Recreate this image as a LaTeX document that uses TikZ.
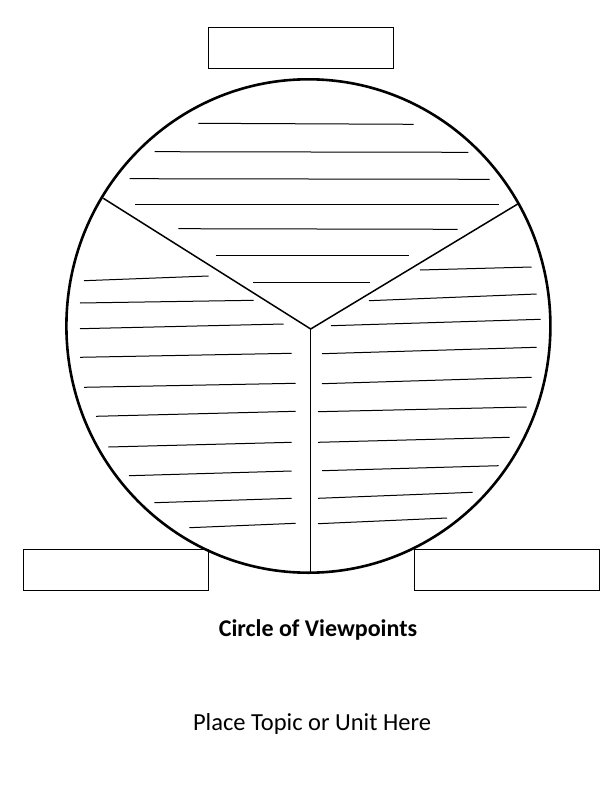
\documentclass[tikz,border=0pt]{standalone}
\usepackage{fontspec}
\setmainfont{Carlito}
\tikzset{
	rim/.style={line width=2.6pt},
	spoke/.style={line width=1.5pt},
	ruled/.style={line width=1pt},
	namebox/.style={line width=0.9pt},
	caption/.style={anchor=base, inner sep=0pt},
}
\begin{document}
\begin{tikzpicture}[x=1pt, y=-1pt]
		\useasboundingbox (0, 0) rectangle (612, 792);
		
		\draw[namebox] (208.4, 27) rectangle (393.4, 68.3);
		\draw[namebox] (23.4, 549.3) rectangle (208.3, 590.3);
		\draw[namebox] (414.5, 549.3) rectangle (599.5, 590.3);
		
		\draw[rim] (308.4, 326) ellipse [x radius=242pt, y radius=246.7pt];
		
		\coordinate (hub) at (310.7, 329);
		\coordinate (lefttip) at (103.3, 198.3);
		\coordinate (righttip) at (517.7, 204);
		\coordinate (foot) at (310.7, 572.7);
		\draw[spoke] (lefttip) -- (hub) -- (righttip);
		\draw[spoke] (hub) -- (foot);
		
		\draw[ruled] (198.3, 123.3) -- (413.7, 124.3);
		\draw[ruled] (154.6, 151.7) -- (468.4, 152.3);
		\draw[ruled] (129.6, 178.7) -- (489.5, 179.3);
		\draw[ruled] (135.0, 204.0) -- (498.8, 204.0);
		\draw[ruled] (178.4, 228.7) -- (457.5, 229.3);
		\draw[ruled] (215.5, 255.3) -- (408.7, 255.3);
		\draw[ruled] (253.3, 282.3) -- (369.6, 282.3);
		
		\draw[ruled] (84.0, 280.7) -- (208.7, 276.0);
		\draw[ruled] (80.0, 303.0) -- (253.7, 300.3);
		\draw[ruled] (80.0, 328.7) -- (283.7, 324.0);
		\draw[ruled] (80.0, 357.3) -- (291.7, 353.3);
		\draw[ruled] (84.0, 387.3) -- (295.7, 383.3);
		\draw[ruled] (96.0, 416.3) -- (295.7, 411.3);
		\draw[ruled] (108.3, 447.0) -- (291.7, 442.3);
		\draw[ruled] (129.0, 475.7) -- (291.7, 471.0);
		\draw[ruled] (154.3, 502.7) -- (291.7, 498.3);
		\draw[ruled] (189.3, 527.7) -- (295.7, 523.3);
		
		\draw[ruled] (420.0, 270.0) -- (531.7, 267.0);
		\draw[ruled] (369.0, 300.7) -- (536.7, 294.0);
		\draw[ruled] (331.0, 325.7) -- (540.7, 319.3);
		\draw[ruled] (322.0, 353.7) -- (536.7, 347.3);
		\draw[ruled] (322.0, 383.7) -- (531.7, 377.3);
		\draw[ruled] (318.0, 411.7) -- (526.7, 407.0);
		\draw[ruled] (318.0, 442.3) -- (509.7, 437.3);
		\draw[ruled] (322.0, 470.7) -- (498.7, 465.7);
		\draw[ruled] (318.0, 498.3) -- (472.7, 492.3);
		\draw[ruled] (318.0, 523.7) -- (447.0, 518.0);
		
		\node[caption, font=\bfseries\fontsize{24}{29}\selectfont] (title) at (318, 636) {Circle of Viewpoints};
		\node[caption, font=\fontsize{24.5}{29}\selectfont] (topic) at (312, 730.7) {Place Topic or Unit Here};
	\end{tikzpicture}
\end{document}
